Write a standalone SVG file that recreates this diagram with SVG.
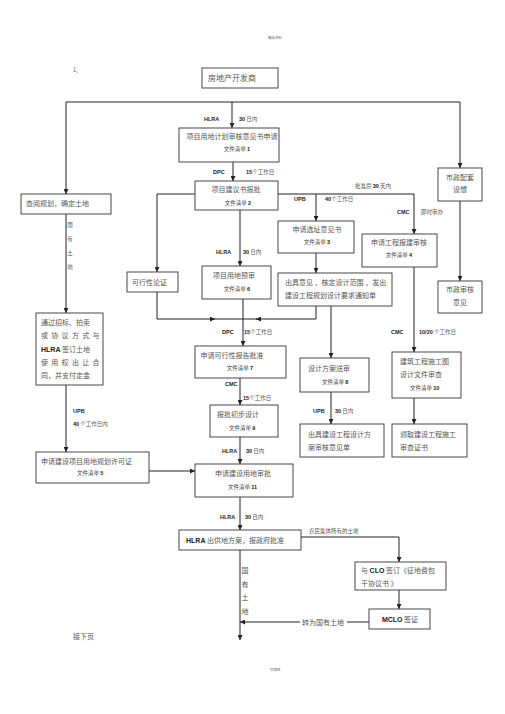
<svg xmlns="http://www.w3.org/2000/svg" width="505" height="714" viewBox="0 0 505 714">
<style>
.bg{fill:#fff}
.box{fill:#fff;stroke:#333;stroke-width:0.9}
.c{stroke:#222;stroke-width:1;fill:none}
.t{font-family:"Noto Sans CJK SC","Liberation Sans",sans-serif;font-size:7px;fill:#555}
.tm{text-anchor:middle}
.s{font-family:"Noto Sans CJK SC","Liberation Sans",sans-serif;font-size:5.5px;fill:#444}
.lab{font-family:"Liberation Sans","Noto Sans CJK SC",sans-serif;font-size:5.5px;font-weight:bold;fill:#222}
.lc{font-family:"Noto Sans CJK SC",sans-serif;font-size:5.5px;fill:#555}
.b{font-family:"Liberation Sans",sans-serif;font-weight:bold;fill:#222}
.tiny{font-family:"Noto Sans CJK SC",sans-serif;font-size:3.5px;fill:#666}
</style>
<defs>
<marker id="ah" viewBox="0 0 10 10" refX="10" refY="5" markerWidth="5" markerHeight="5" markerUnits="userSpaceOnUse" orient="auto">
<path d="M0,0 L10,5 L0,10 z" fill="#222"/>
</marker>
</defs>
<rect class="bg" x="0" y="0" width="505" height="714"/>
<text class="tiny" x="275" y="39" text-anchor="middle">精品资料</text>
<text class="lc" x="73" y="72">1、</text>

<g id="connectors">
<path class="c" d="M66,102 H460"/>
<path class="c" d="M232,102 V128" marker-end="url(#ah)"/>
<path class="c" d="M66,102 V194" marker-end="url(#ah)"/>
<path class="c" d="M460,102 V168" marker-end="url(#ah)"/>
<path class="c" d="M233,162 V181" marker-end="url(#ah)"/>
<path class="c" d="M195,194 H157 V272" marker-end="url(#ah)"/>
<path class="c" d="M278,194 H414 V234" marker-end="url(#ah)"/>
<path class="c" d="M316,194 V221" marker-end="url(#ah)"/>
<path class="c" d="M240,210 V266" marker-end="url(#ah)"/>
<path class="c" d="M316,253 V273" marker-end="url(#ah)"/>
<path class="c" d="M157,292 V319 H215" marker-end="url(#ah)"/>
<path class="c" d="M214,319 H243"/>
<path class="c" d="M316,306 V319 H256" marker-end="url(#ah)"/>
<path class="c" d="M257,319 H243"/>
<path class="c" d="M243,299 V346" marker-end="url(#ah)"/>
<path class="c" d="M331,306 V358" marker-end="url(#ah)"/>
<path class="c" d="M331,392 V424" marker-end="url(#ah)"/>
<path class="c" d="M414,267 V352" marker-end="url(#ah)"/>
<path class="c" d="M414,398 V424" marker-end="url(#ah)"/>
<path class="c" d="M460,201 V281" marker-end="url(#ah)"/>
<path class="c" d="M66,214 V313" marker-end="url(#ah)"/>
<path class="c" d="M66,385 V452" marker-end="url(#ah)"/>
<path class="c" d="M149,471 H195" marker-end="url(#ah)"/>
<path class="c" d="M240,378 V405" marker-end="url(#ah)"/>
<path class="c" d="M240,437 V464" marker-end="url(#ah)"/>
<path class="c" d="M240,497 V530" marker-end="url(#ah)"/>
<path class="c" d="M301,537 H399 V562" marker-end="url(#ah)"/>
<path class="c" d="M399,590 V609" marker-end="url(#ah)"/>
<path class="c" d="M369,622 H347"/>
<path class="c" d="M300,622 H240" marker-end="url(#ah)"/>
<path class="c" d="M240,550 V640" marker-end="url(#ah)"/>

<text class="lab" x="204" y="121">HLRA</text>
<text class="lc" x="239" y="121"><tspan class="b">30</tspan> 日内</text>
<text class="lab" x="213" y="174">DPC</text>
<text class="lc" x="246" y="174"><tspan class="b">15</tspan>个工作日</text>
<text class="lc" x="355" y="188">批准后 <tspan class="b">30</tspan> 天内</text>
<text class="lab" x="294" y="201">UPB</text>
<text class="lc" x="325" y="201"><tspan class="b">40</tspan>个工作日</text>
<text class="lab" x="397" y="214">CMC</text>
<text class="lc" x="421" y="214">即时审办</text>
<text class="lab" x="216" y="254">HLRA</text>
<text class="lc" x="243" y="254"><tspan class="b">30</tspan> 日内</text>
<text class="lab" x="222" y="334">DPC</text>
<text class="lc" x="244" y="334"><tspan class="b">15</tspan>个工作日</text>
<text class="lab" x="225" y="386">CMC</text>
<text class="lc" x="243" y="400"><tspan class="b">15</tspan>个工作日</text>
<text class="lab" x="222" y="453">HLRA</text>
<text class="lc" x="246" y="453"><tspan class="b">30</tspan> 日内</text>
<text class="lab" x="220" y="519">HLRA</text>
<text class="lc" x="245" y="519"><tspan class="b">30</tspan> 日内</text>
<text class="lab" x="313" y="413">UPB</text>
<text class="lc" x="335" y="413"><tspan class="b">30</tspan> 日内</text>
<text class="lab" x="391" y="334">CMC</text>
<text class="lc" x="419" y="334"><tspan class="b">10/20</tspan> 个工作日</text>
<text class="lab" x="73" y="413">UPB</text>
<text class="lc" x="73" y="426"><tspan class="b">40</tspan> 个工作日内</text>
<text class="lc" x="309" y="533">农民集体所有的土地</text>
<text class="t" x="302" y="625">转为国有土地</text>
<text class="lc" x="70" y="227" text-anchor="middle">国</text>
<text class="lc" x="70" y="241" text-anchor="middle">有</text>
<text class="lc" x="70" y="255" text-anchor="middle">土</text>
<text class="lc" x="70" y="269" text-anchor="middle">地</text>
<text class="t" x="245" y="573" text-anchor="middle">国</text>
<text class="t" x="245" y="587" text-anchor="middle">有</text>
<text class="t" x="245" y="600" text-anchor="middle">土</text>
<text class="t" x="245" y="614" text-anchor="middle">地</text>
</g>

<g id="n0"><rect class="box" x="202" y="68" width="76" height="20"/><text class="t" x="208" y="81" style="font-size:8px">房地产开发商</text></g>

<g id="n1"><rect class="box" x="179" y="128" width="100" height="34"/>
<text class="t tm" x="232" y="139">项目用地计划审核意见书申请</text>
<text class="s tm" x="237" y="151">文件清单 <tspan class="b">1</tspan></text></g>

<g id="n2"><rect class="box" x="195" y="181" width="83" height="29"/>
<text class="t tm" x="236" y="192">项目建议书报批</text>
<text class="s tm" x="238" y="205">文件清单 <tspan class="b">2</tspan></text></g>

<g id="n3"><rect class="box" x="278" y="221" width="76" height="32"/>
<text class="t tm" x="317" y="232">申请选址意见书</text>
<text class="s tm" x="317" y="244">文件清单 <tspan class="b">3</tspan></text></g>

<g id="n4"><rect class="box" x="362" y="234" width="75" height="33"/>
<text class="t tm" x="399" y="245">申请工程报建审核</text>
<text class="s tm" x="399" y="257">文件清单 <tspan class="b">4</tspan></text></g>

<g id="n_sz1"><rect class="box" x="438" y="168" width="44" height="33"/>
<text class="t tm" x="460" y="180">市政配套</text>
<text class="t tm" x="460" y="192">设想</text></g>

<g id="n_sz2"><rect class="box" x="438" y="281" width="44" height="32"/>
<text class="t tm" x="460" y="292">市政审核</text>
<text class="t tm" x="460" y="305">意见</text></g>

<g id="n_cy"><rect class="box" x="21" y="194" width="90" height="20"/>
<text class="t" x="26" y="206">查阅规划，确定土地</text></g>

<g id="n_kx"><rect class="box" x="127" y="272" width="51" height="20"/>
<text class="t" x="132" y="285">可行性论证</text></g>

<g id="n6"><rect class="box" x="202" y="266" width="69" height="33"/>
<text class="t tm" x="234" y="278">项目用地预审</text>
<text class="s tm" x="237" y="291">文件清单 <tspan class="b">6</tspan></text></g>

<g id="n_cj"><rect class="box" x="278" y="273" width="114" height="33"/>
<text class="t" x="285" y="285">出具意见 ，核定设计范围 ，发出</text>
<text class="t" x="285" y="298">建设工程规划设计要求通知单</text></g>

<g id="n_zb"><rect class="box" x="36" y="313" width="67" height="72"/>
<text class="t" x="41" y="325">通过招标、拍卖</text>
<text class="t" x="41" y="338" style="letter-spacing:3.3px">或协议方式与</text>
<text class="t" x="41" y="352"><tspan class="b">HLRA</tspan>  签订土地</text>
<text class="t" x="41" y="365" style="letter-spacing:3.3px">使用权出让合</text>
<text class="t" x="41" y="378">同，并支付定金</text></g>

<g id="n7"><rect class="box" x="195" y="346" width="91" height="32"/>
<text class="t tm" x="232" y="358">申请可行性报告批准</text>
<text class="s tm" x="240" y="370">文件清单 <tspan class="b">7</tspan></text></g>

<g id="n8"><rect class="box" x="300" y="358" width="69" height="34"/>
<text class="t" x="308" y="371">设计方案送审</text>
<text class="s" x="322" y="384">文件清单 <tspan class="b">8</tspan></text></g>

<g id="n10"><rect class="box" x="392" y="352" width="69" height="46"/>
<text class="t" x="400" y="364">建筑工程施工图</text>
<text class="t" x="400" y="377">设计文件审查</text>
<text class="s" x="410" y="390">文件清单 <tspan class="b">10</tspan></text></g>

<g id="n9"><rect class="box" x="210" y="405" width="68" height="32"/>
<text class="t" x="217" y="417">报批初步设计</text>
<text class="s" x="229" y="430">文件清单 <tspan class="b">9</tspan></text></g>

<g id="n_sh"><rect class="box" x="300" y="424" width="84" height="33"/>
<text class="t" x="308" y="437">出具建设工程设计方</text>
<text class="t" x="308" y="450">案审核意见单</text></g>

<g id="n_lq"><rect class="box" x="392" y="424" width="75" height="33"/>
<text class="t" x="400" y="437">领取建设工程施工</text>
<text class="t" x="400" y="450">审查证书</text></g>

<g id="n5"><rect class="box" x="36" y="452" width="113" height="31"/>
<text class="t" x="41" y="464">申请建设项目用地规划许可证</text>
<text class="s" x="77" y="475">文件清单 <tspan class="b">5</tspan></text></g>

<g id="n11"><rect class="box" x="195" y="464" width="98" height="33"/>
<text class="t" x="215" y="476">申请建设用地审批</text>
<text class="s" x="228" y="489">文件清单 <tspan class="b">11</tspan></text></g>

<g id="n12"><rect class="box" x="179" y="530" width="122" height="20"/>
<text class="t" x="186" y="543"><tspan class="b">HLRA</tspan> 出供地方案，报政府批准</text></g>

<g id="n13"><rect class="box" x="355" y="562" width="91" height="28"/>
<text class="t" x="361" y="573">与 <tspan class="b">CLO</tspan> 签订《征地费包</text>
<text class="t" x="361" y="586">干协议书 》</text></g>

<g id="n14"><rect class="box" x="369" y="609" width="61" height="20"/>
<text class="t tm" x="400" y="622"><tspan class="b">MCLO</tspan>  签证</text></g>

<text class="t" x="73" y="639">接下页</text>
<text class="tiny" x="275" y="671" text-anchor="middle">可编辑</text>
</svg>
